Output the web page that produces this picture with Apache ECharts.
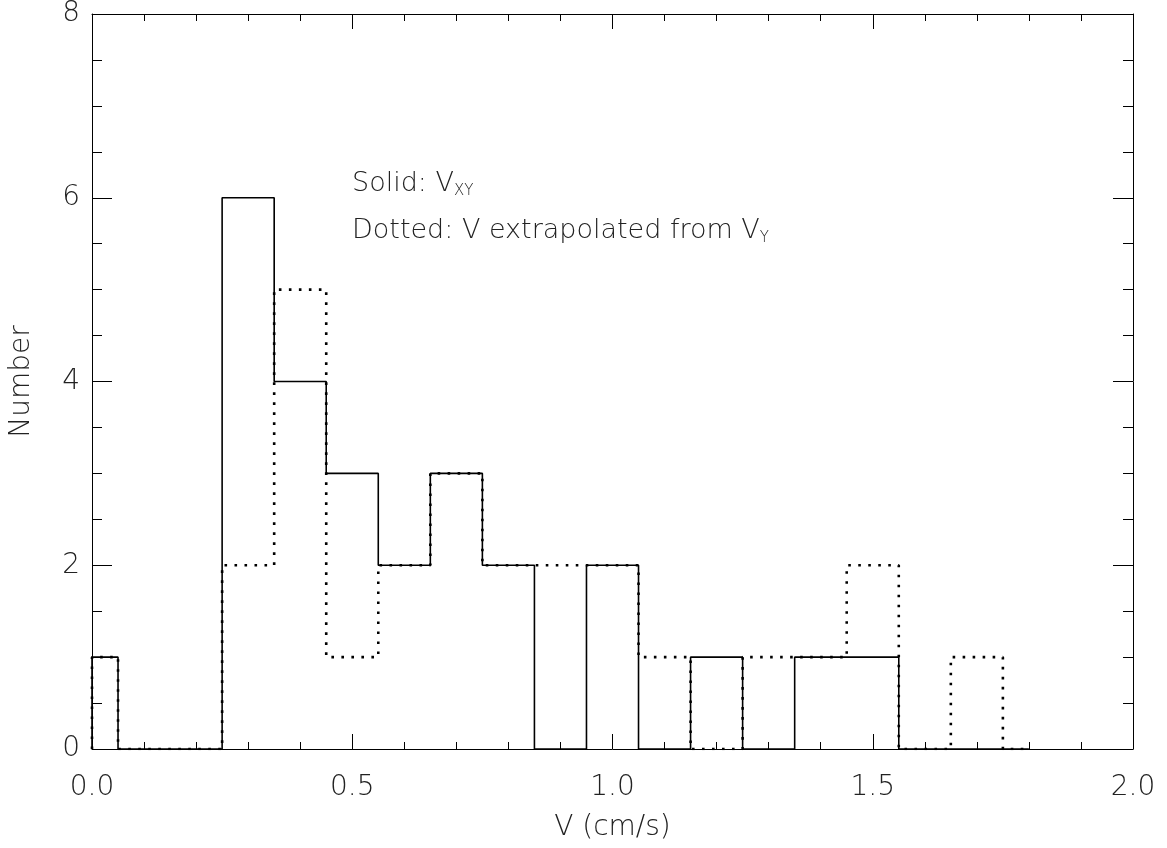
<!DOCTYPE html>
<html>
<head>
<meta charset="utf-8">
<script src="https://cdn.jsdelivr.net/npm/echarts@6/dist/echarts.min.js"></script>
<style>
  html, body { margin: 0; padding: 0; background: #fff; }
  #chart { width: 1167px; height: 848px; }
</style>
</head>
<body>
<div id="chart"></div>
<script>
// bin centres (cm/s), width 0.1 -- end bins drawn as half bins (IDL psym=10 style)
const binCenters = [0.0, 0.1, 0.2, 0.3, 0.4, 0.5, 0.6, 0.7, 0.8, 0.9, 1.0, 1.1, 1.2, 1.3, 1.4, 1.5, 1.6, 1.7, 1.8];
const solidCounts = [1, 0, 0, 6, 4, 3, 2, 3, 2, 0, 2, 0, 1, 0, 1, 1, 0, 0, 0];
const dottedCounts = [1, 0, 0, 2, 5, 1, 2, 3, 2, 2, 2, 1, 0, 1, 1, 2, 0, 1, 0];
const binWidth = 0.1;

const xTicks = [0.0, 0.5, 1.0, 1.5, 2.0];
const yTicks = [0, 2, 4, 6, 8];

const font = "'DejaVu Sans', sans-serif";
const txt = '#222';

// step points: each bin spans centre +/- half width, clamped to the data range
function histPoints(counts) {
  const lo = binCenters[0];
  const hi = binCenters[binCenters.length - 1];
  const pts = [[lo, 0]];
  counts.forEach((c, i) => {
    const left = Math.max(lo, binCenters[i] - binWidth / 2);
    pts.push([+left.toFixed(3), c]);
  });
  pts.push([hi, 0]);
  return pts;
}

const chart = echarts.init(document.getElementById('chart'), null, { renderer: 'canvas' });

const tickStyle = { color: '#000', width: 1 };

function xAxisCfg(pos, showLabel) {
  return {
    type: 'value',
    position: pos,
    min: xTicks[0],
    max: xTicks[xTicks.length - 1],
    interval: 0.5,
    axisLine: { show: true, onZero: false, lineStyle: { color: '#000', width: 1 } },
    axisTick: { show: true, inside: true, length: 15, lineStyle: tickStyle },
    minorTick: { show: true, splitNumber: 5, length: 7, lineStyle: tickStyle },
    splitLine: { show: false },
    axisLabel: {
      show: showLabel,
      margin: 25,
      fontFamily: font,
      fontSize: 28,
      fontWeight: 200,
      color: txt,
      formatter: v => v.toFixed(1)
    }
  };
}

function yAxisCfg(pos, showLabel) {
  return {
    type: 'value',
    position: pos,
    min: yTicks[0],
    max: yTicks[yTicks.length - 1],
    interval: 2,
    axisLine: { show: true, onZero: false, lineStyle: { color: '#000', width: 1 } },
    axisTick: { show: true, inside: true, length: 20, lineStyle: tickStyle },
    minorTick: { show: true, splitNumber: 4, length: 10, lineStyle: tickStyle },
    splitLine: { show: false },
    axisLabel: {
      show: showLabel,
      margin: 12,
      fontFamily: font,
      fontSize: 28,
      fontWeight: 200,
      color: txt
    }
  };
}

const xBottom = Object.assign(xAxisCfg('bottom', true), {
  name: 'V (cm/s)',
  nameLocation: 'middle',
  nameGap: 65,
  nameTextStyle: { fontFamily: font, fontSize: 28, fontWeight: 200, color: txt }
});
const yLeft = Object.assign(yAxisCfg('left', true), {
  name: 'Number',
  nameLocation: 'middle',
  nameGap: 56,
  nameTextStyle: { fontFamily: font, fontSize: 28, fontWeight: 200, color: txt }
});

const richNote = {
  n: { fontFamily: font, fontSize: 27, fontWeight: 200, lineHeight: 30, fill: txt },
  s: { fontFamily: font, fontSize: 15, fontWeight: 200, lineHeight: 14, verticalAlign: 'bottom', fill: txt }
};

const option = {
  animation: false,
  backgroundColor: '#fff',
  grid: { left: 92, right: 34, top: 10, bottom: 99, containLabel: false },
  xAxis: [xBottom, xAxisCfg('top', false)],
  yAxis: [yLeft, yAxisCfg('right', false)],
  graphic: [
    {
      type: 'text',
      left: 352,
      top: 170,
      style: { text: '{n|Solid: V}{s|XY}', fill: txt, rich: richNote }
    },
    {
      type: 'text',
      left: 352,
      top: 217,
      style: { text: '{n|Dotted: V extrapolated from V}{s|Y}', fill: txt, rich: richNote }
    }
  ],
  series: [
    {
      name: 'Solid',
      type: 'line',
      step: 'end',
      showSymbol: false,
      clip: true,
      data: histPoints(solidCounts),
      lineStyle: { color: '#000', width: 1.6, type: 'solid' },
      z: 3
    },
    {
      name: 'Dotted',
      type: 'line',
      step: 'end',
      showSymbol: false,
      clip: true,
      data: histPoints(dottedCounts),
      lineStyle: { color: '#000', width: 2.6, type: [2.6, 7.4], cap: 'butt' },
      z: 4
    }
  ]
};

chart.setOption(option);
</script>
</body>
</html>
